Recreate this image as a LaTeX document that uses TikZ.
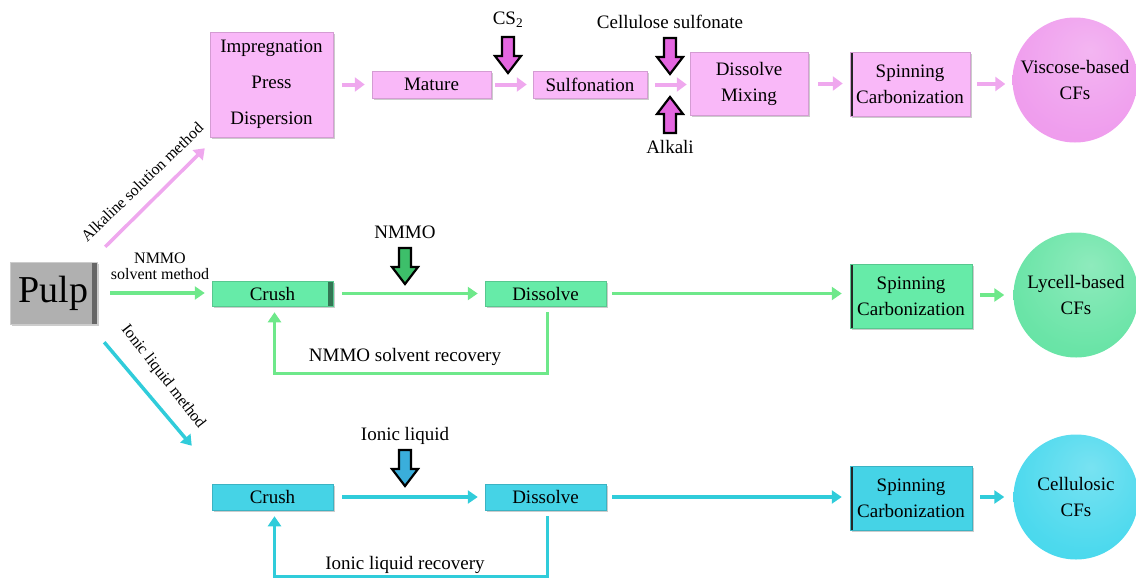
\documentclass[tikz,border=0pt]{standalone}
\usepackage{fontspec}
\setmainfont{Liberation Serif}
\usetikzlibrary{arrows.meta,shadows,calc}
\definecolor{pinkF}{HTML}{F9B8F8}
\definecolor{pinkL}{HTML}{EFA8EE}
\definecolor{pinkB}{HTML}{E466E0}
\definecolor{pinkBall}{HTML}{EE96EC}
\definecolor{greenF}{HTML}{66EBA8}
\definecolor{greenL}{HTML}{6EE88A}
\definecolor{greenB}{HTML}{3DBF6A}
\definecolor{greenBall}{HTML}{5EE2A0}
\definecolor{cyanF}{HTML}{45D3E6}
\definecolor{cyanL}{HTML}{30CCDA}
\definecolor{cyanB}{HTML}{3AAEDB}
\definecolor{cyanBall}{HTML}{3ED6EC}
\definecolor{grayF}{HTML}{B0B0B0}
\pgfdeclareradialshading{sphP}{\pgfpoint{6bp}{12bp}}{color(0bp)=(pinkBall!70!white); color(28bp)=(pinkBall!92!white); color(44bp)=(pinkBall); color(56bp)=(pinkBall!88!black); color(70bp)=(pinkBall!72!black)}
\pgfdeclareradialshading{sphG}{\pgfpoint{6bp}{12bp}}{color(0bp)=(greenBall!70!white); color(28bp)=(greenBall!92!white); color(44bp)=(greenBall); color(56bp)=(greenBall!88!black); color(70bp)=(greenBall!72!black)}
\pgfdeclareradialshading{sphC}{\pgfpoint{6bp}{12bp}}{color(0bp)=(cyanBall!70!white); color(28bp)=(cyanBall!92!white); color(44bp)=(cyanBall); color(56bp)=(cyanBall!88!black); color(70bp)=(cyanBall!72!black)}
\begin{document}
\begin{tikzpicture}[x=1pt,y=-1pt,
  box/.style={rectangle, inner sep=0pt, align=center, font=\rmfamily\fontsize{19}{22}\selectfont,
    drop shadow={shadow xshift=2pt,shadow yshift=-2pt,fill=black!40}},
  pbox/.style={box, fill=pinkF, draw=pinkF!85!black, line width=0.5pt},
  gbox/.style={box, fill=greenF, draw=greenF!85!black, line width=0.5pt},
  cbox/.style={box, fill=cyanF, draw=cyanF!85!black, line width=0.5pt},
  two/.style={font=\rmfamily\fontsize{19}{26}\selectfont},
  leftbar/.style={path picture={\fill[black!85] (path picture bounding box.north west) rectangle ([xshift=3pt]path picture bounding box.south west);}},
  rightbar/.style={path picture={\fill[#1] ([xshift=-5pt]path picture bounding box.north east) rectangle (path picture bounding box.south east);}},
  ball/.style={circle, minimum size=125pt, inner sep=0pt, align=center,
    font=\rmfamily\fontsize{19}{26}\selectfont, shading=#1},
  parr/.style={draw=pinkL, line width=4pt, -{Triangle[length=10pt,width=14pt]}},
  garr/.style={draw=greenL, line width=3.5pt, -{Triangle[length=10pt,width=13pt]}},
  carr/.style={draw=cyanL, line width=3.5pt, -{Triangle[length=10pt,width=13pt]}},
  lbl/.style={font=\rmfamily\fontsize{19}{22}\selectfont, inner sep=1pt},
  mlbl/.style={font=\rmfamily\fontsize{16}{16}\selectfont, inner sep=1pt, align=center},
  blk/.pic={\filldraw[draw=black, line width=2.2pt, line join=miter]
    (-6,0) -- (6,0) -- (6,19) -- (13,19) -- (0,36) -- (-13,19) -- (-6,19) -- cycle;}
]
\useasboundingbox (0,0) rectangle (1136,579);

% Pulp
\node[box, fill=grayF, draw=black!20, rightbar=black!60, minimum width=87pt, minimum height=62pt,
  font=\rmfamily\fontsize{38}{40}\selectfont] (pulp) at (53.5,293) {Pulp};

% ---- Row 1 (alkaline) ----
\node[pbox, minimum width=123pt, minimum height=105pt] (imp) at (271.5,84.5)
  {Impregnation\\[14pt]Press\\[14pt]Dispersion};
\node[pbox, minimum width=119pt, minimum height=27pt] (mat) at (431.5,84.5) {Mature};
\node[pbox, minimum width=114pt, minimum height=27pt] (sul) at (590,84.5) {Sulfonation};
\node[pbox, two, minimum width=118pt, minimum height=63pt] (dis1) at (749,83.5) {Dissolve\\Mixing};
\node[pbox, two, leftbar, minimum width=120pt, minimum height=64pt] (spin1) at (910,84) {Spinning\\Carbonization};
\node[ball=sphP] (cf1) at (1075,80) {Viscose-based\\CFs};

\draw[parr, shorten <=9pt, shorten >=7pt] (imp.east |- mat.west) -- (mat.west);
\draw[parr, shorten <=4pt, shorten >=6pt] (mat) -- (sul);
\draw[parr, shorten <=8pt, shorten >=3pt] (sul.east) -- (sul.east -| dis1.west);
\draw[parr, shorten <=10pt, shorten >=7pt] (dis1.east) -- (dis1.east -| spin1.west);
\draw[parr, shorten <=7pt, shorten >=7pt] (spin1.east) -- (spin1.east -| cf1.west);

\node[lbl] (cs2) at (508,20) {CS\textsubscript{2}};
\pic[fill=pinkB] at (508,37) {blk};
\node[lbl] (cellsul) at (670,22) {Cellulose sulfonate};
\pic[fill=pinkB] at (670,38) {blk};
\node[lbl] (alkali) at (670,147) {Alkali};
\pic[fill=pinkB, rotate=180] at (670,133) {blk};

% ---- Row 2 (NMMO) ----
\node[gbox, rightbar=black!50!greenF, minimum width=121pt, minimum height=25pt] (cr2) at (272.5,293.5) {Crush};
\node[gbox, minimum width=121pt, minimum height=25pt] (ds2) at (545.5,293.5) {Dissolve};
\node[gbox, two, leftbar, minimum width=122pt, minimum height=64pt] (sp2) at (911,296) {Spinning\\Carbonization};
\node[ball=sphG] (cf2) at (1076,295) {Lycell-based\\CFs};

\draw[garr, shorten <=13pt, shorten >=7pt] (pulp.east) -- (pulp.east -| cr2.west);
\draw[garr, shorten <=9pt, shorten >=7pt] (cr2) -- (ds2);
\draw[garr, shorten <=6pt, shorten >=8pt] (ds2.east) -- (ds2.east -| sp2.west);
\draw[garr, shorten <=8pt, shorten >=9pt] (sp2.east |- cf2.west) -- (cf2.west);
\draw[garr] ([shift={(2,6)}]ds2.south) |- ([shift={(2,67)}]cr2.south) -- ([shift={(2,6)}]cr2.south);

\node[lbl] (nmmo) at (405,232) {NMMO};
\pic[fill=greenB] at (405,248) {blk};
\node[lbl] (nrec) at (405,357) {NMMO solvent recovery};

% ---- Row 3 (ionic liquid) ----
\node[cbox, minimum width=121pt, minimum height=26pt] (cr3) at (272.5,497) {Crush};
\node[cbox, minimum width=121pt, minimum height=26pt] (ds3) at (545.5,497) {Dissolve};
\node[cbox, two, leftbar, minimum width=122pt, minimum height=64pt] (sp3) at (911,498) {Spinning\\Carbonization};
\node[ball=sphC] (cf3) at (1076,497) {Cellulosic\\CFs};

\draw[carr, shorten <=9pt, shorten >=7pt] (cr3) -- (ds3);
\draw[carr, shorten <=6pt, shorten >=8pt] (ds3.east) -- (ds3.east -| sp3.west);
\draw[carr, shorten <=8pt, shorten >=9pt] (sp3.east |- cf3.west) -- (cf3.west);
\draw[carr] ([shift={(2,6)}]ds3.south) |- ([shift={(2,66)}]cr3.south) -- ([shift={(2,6)}]cr3.south);

\node[lbl] (il) at (405,436) {Ionic liquid};
\pic[fill=cyanB] at (405,450) {blk};
\node[lbl] (irec) at (405,565) {Ionic liquid recovery};

% ---- method branches ----
\draw[parr, line width=3.5pt] ([shift={(8,-15)}]pulp.north east) -- ([shift={(-5,11)}]imp.south west);
\draw[carr] ([shift={(7,18)}]pulp.south east) -- ([shift={(-20,-38)}]cr3.north west);
\node[mlbl, rotate=44] (alk) at (142,182) {Alkaline solution method};
\node[mlbl] (nm) at (160,266) {NMMO\\solvent method};
\node[mlbl, rotate=-52] (ilm) at (163,377) {Ionic liquid method};
\end{tikzpicture}
\end{document}
